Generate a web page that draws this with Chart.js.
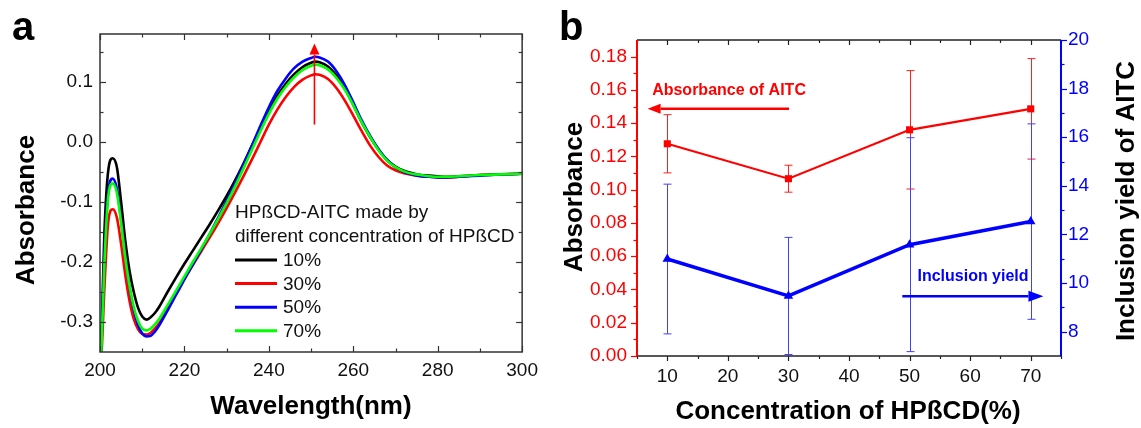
<!DOCTYPE html>
<html>
<head>
<meta charset="utf-8">
<script src="https://cdn.jsdelivr.net/npm/chart.js@4.4.1/dist/chart.umd.min.js"></script>
<style>
  html, body { margin: 0; padding: 0; background: #fff; }
  body { width: 1141px; height: 428px; position: relative; overflow: hidden; }
  canvas { position: absolute; top: 0; }
  #chartA { left: 0; }
  #chartB { left: 545px; }
</style>
</head>
<body>
<canvas id="chartA" width="545" height="428"></canvas>
<canvas id="chartB" width="596" height="428"></canvas>
<script>
// ---- panel a: UV spectra ----
const wavelengths = [200,201,202,203,204,205,206,207,208,209,210,211,212,213,214,216,218,220,222,224,226,228,230,232,234,236,238,240,242,244,246,248,250,251,252,254,256,258,260,262,264,266,268,270,272,274,276,278,280,282,285,290,295,300];
const abs10 = [-0.42,-0.16,-0.045,-0.027,-0.042,-0.10,-0.165,-0.215,-0.25,-0.276,-0.291,-0.296,-0.292,-0.285,-0.275,-0.250,-0.226,-0.203,-0.181,-0.159,-0.137,-0.114,-0.090,-0.064,-0.036,-0.006,0.024,0.053,0.077,0.097,0.113,0.125,0.132,0.134,0.133,0.126,0.111,0.090,0.062,0.033,0.008,-0.013,-0.030,-0.041,-0.048,-0.052,-0.055,-0.056,-0.057,-0.058,-0.057,-0.055,-0.054,-0.053];
const abs30 = [-0.42,-0.25,-0.13,-0.112,-0.126,-0.17,-0.222,-0.265,-0.295,-0.312,-0.32,-0.321,-0.318,-0.311,-0.302,-0.278,-0.253,-0.228,-0.205,-0.182,-0.159,-0.135,-0.110,-0.084,-0.057,-0.029,0.000,0.029,0.054,0.075,0.092,0.104,0.111,0.113,0.112,0.105,0.090,0.069,0.044,0.018,-0.006,-0.025,-0.039,-0.047,-0.052,-0.055,-0.057,-0.058,-0.059,-0.059,-0.058,-0.055,-0.054,-0.053];
const abs50 = [-0.42,-0.20,-0.08,-0.061,-0.078,-0.13,-0.19,-0.242,-0.28,-0.305,-0.319,-0.324,-0.323,-0.316,-0.306,-0.281,-0.255,-0.229,-0.204,-0.179,-0.153,-0.126,-0.098,-0.069,-0.038,-0.006,0.027,0.058,0.085,0.106,0.123,0.134,0.140,0.142,0.141,0.134,0.118,0.095,0.066,0.036,0.010,-0.012,-0.030,-0.042,-0.050,-0.054,-0.057,-0.058,-0.059,-0.059,-0.058,-0.056,-0.054,-0.053];
const abs70 = [-0.42,-0.21,-0.088,-0.069,-0.085,-0.135,-0.193,-0.24,-0.275,-0.298,-0.311,-0.314,-0.311,-0.304,-0.295,-0.272,-0.248,-0.224,-0.200,-0.177,-0.153,-0.128,-0.102,-0.074,-0.044,-0.013,0.018,0.047,0.072,0.092,0.108,0.120,0.127,0.129,0.128,0.121,0.107,0.087,0.061,0.033,0.008,-0.014,-0.031,-0.042,-0.049,-0.053,-0.055,-0.057,-0.058,-0.058,-0.057,-0.055,-0.054,-0.053];
const seriesLabelsA = ['10%', '30%', '50%', '70%'];
const legendTitleA = ['HP\u00dfCD-AITC made by', 'different concentration of HP\u00dfCD'];
const xTicksA = [200, 220, 240, 260, 280, 300];
const xMinorA = [210, 230, 250, 270, 290];
const yTicksA = [-0.3, -0.2, -0.1, 0, 0.1];
const yMinorA = [-0.25, -0.15, -0.05, 0.05, 0.15];

// ---- panel b: absorbance and inclusion yield ----
const concentrations = [10, 30, 50, 70];
const absorbanceAITC = [0.1276, 0.1066, 0.136, 0.1486];
const absorbanceErr = [0.0175, 0.0081, 0.0356, 0.0302];
const inclusionYield = [10.99, 9.47, 11.58, 12.53];
const inclusionErr = [3.08, 2.41, 4.40, 4.02];
const xTicksB = [10, 20, 30, 40, 50, 60, 70];
const xMinorB = [5, 15, 25, 35, 45, 55, 65, 75];
const yTicksB = [0, 0.02, 0.04, 0.06, 0.08, 0.10, 0.12, 0.14, 0.16, 0.18];
const yMinorB = [0.01, 0.03, 0.05, 0.07, 0.09, 0.11, 0.13, 0.15, 0.17];
const yTicksR = [8, 10, 12, 14, 16, 18, 20];
const yMinorR = [9, 11, 13, 15, 17, 19];

Chart.defaults.font.family = "'Liberation Sans', Arial, sans-serif";
Chart.defaults.color = '#111';

const FONT = "'Liberation Sans', Arial, sans-serif";

function ticksX(ctx, scale, vals, y0, len) {
  vals.forEach(v => {
    const px = Math.round(scale.getPixelForValue(v)) + 0.5;
    ctx.beginPath(); ctx.moveTo(px, y0); ctx.lineTo(px, y0 + len); ctx.stroke();
  });
}
function ticksY(ctx, scale, vals, x0, len) {
  vals.forEach(v => {
    const py = Math.round(scale.getPixelForValue(v)) + 0.5;
    ctx.beginPath(); ctx.moveTo(x0, py); ctx.lineTo(x0 + len, py); ctx.stroke();
  });
}
function arrow(ctx, x1, y1, x2, y2, color, width, headLen, headHalf) {
  const ang = Math.atan2(y2 - y1, x2 - x1);
  const bx = x2 - Math.cos(ang) * headLen, by = y2 - Math.sin(ang) * headLen;
  ctx.strokeStyle = color; ctx.fillStyle = color; ctx.lineWidth = width;
  ctx.beginPath(); ctx.moveTo(x1, y1); ctx.lineTo(bx, by); ctx.stroke();
  ctx.beginPath();
  ctx.moveTo(x2, y2);
  ctx.lineTo(bx + Math.sin(ang) * headHalf, by - Math.cos(ang) * headHalf);
  ctx.lineTo(bx - Math.sin(ang) * headHalf, by + Math.cos(ang) * headHalf);
  ctx.closePath(); ctx.fill();
}
function vText(ctx, text, x, cy, font) {
  ctx.save();
  ctx.translate(x, cy); ctx.rotate(-Math.PI / 2);
  ctx.font = font; ctx.textAlign = 'center'; ctx.textBaseline = 'alphabetic';
  ctx.fillText(text, 0, 0);
  ctx.restore();
}

const colorsA = ['#000000', '#ff0000', '#0000ff', '#00ff00'];
const valuesA = [abs10, abs30, abs50, abs70];

const panelA = {
  id: 'panelA',
  afterDraw(chart) {
    const { ctx, chartArea: a, scales: { x, y } } = chart;
    ctx.save();
    // frame + inward ticks
    ctx.strokeStyle = '#333'; ctx.lineWidth = 1.5;
    ctx.strokeRect(a.left, a.top, a.right - a.left, a.bottom - a.top);
    ctx.lineWidth = 1.2;
    ticksX(ctx, x, xTicksA, a.bottom, -6); ticksX(ctx, x, xMinorA, a.bottom, -3.5);
    ticksX(ctx, x, xTicksA, a.top, 6); ticksX(ctx, x, xMinorA, a.top, 3.5);
    ticksY(ctx, y, yTicksA, a.left, 6); ticksY(ctx, y, yMinorA, a.left, 3.5);
    ticksY(ctx, y, yTicksA, a.right, -6); ticksY(ctx, y, yMinorA, a.right, -3.5);

    // red arrow at the peak
    const ax = x.getPixelForValue(250.8);
    arrow(ctx, ax, y.getPixelForValue(0.029), ax, y.getPixelForValue(0.164), '#ff0000', 1.6, 11, 5);

    // legend
    ctx.fillStyle = '#111';
    ctx.font = '19px ' + FONT; ctx.textBaseline = 'middle'; ctx.textAlign = 'left';
    ctx.fillText(legendTitleA[0], 235, 213);
    ctx.fillText(legendTitleA[1], 235, 237);
    seriesLabelsA.forEach((lab, i) => {
      const yy = 260 + i * 23.6;
      ctx.strokeStyle = colorsA[i]; ctx.lineWidth = 3;
      ctx.beginPath(); ctx.moveTo(235, yy); ctx.lineTo(277, yy); ctx.stroke();
      ctx.fillStyle = '#111';
      ctx.fillText(lab, 283, yy + 1);
    });

    // titles
    ctx.fillStyle = '#000';
    ctx.font = 'bold 40px ' + FONT; ctx.textBaseline = 'alphabetic'; ctx.textAlign = 'left';
    ctx.fillText('a', 12, 40);
    ctx.font = 'bold 26px ' + FONT; ctx.textAlign = 'center'; ctx.textBaseline = 'middle';
    ctx.fillText('Wavelength(nm)', 311, 407);
    vText(ctx, 'Absorbance', 34, 210, 'bold 26px ' + FONT);
    ctx.restore();
  }
};

new Chart(document.getElementById('chartA'), {
  type: 'line',
  data: {
    datasets: valuesA.map((vals, i) => ({
      label: seriesLabelsA[i],
      data: wavelengths.map((w, j) => ({ x: w, y: vals[j] })),
      borderColor: colorsA[i],
      borderWidth: 2.6,
      pointRadius: 0,
      cubicInterpolationMode: 'monotone',
      order: 4 - i
    }))
  },
  options: {
    responsive: false,
    animation: false,
    layout: { padding: { left: 0, right: 21, top: 34, bottom: 0 } },
    plugins: { legend: { display: false }, tooltip: { enabled: false } },
    scales: {
      x: {
        type: 'linear', min: 200, max: 300,
        grid: { display: false, drawTicks: false }, border: { display: false },
        ticks: { padding: 7, color: '#111', font: { size: 19 }, maxRotation: 0, autoSkip: false },
        afterBuildTicks: s => { s.ticks = xTicksA.map(v => ({ value: v })); },
        afterFit: s => { s.height = 76; }
      },
      y: {
        type: 'linear', min: -0.35, max: 0.18,
        grid: { display: false, drawTicks: false }, border: { display: false },
        ticks: { padding: 7, color: '#111', font: { size: 19 }, callback: v => v.toFixed(1) },
        afterBuildTicks: s => { s.ticks = yTicksA.map(v => ({ value: v })); },
        afterFit: s => { s.width = 100; }
      }
    }
  },
  plugins: [panelA]
});

// ---- panel b ----
const panelB = {
  id: 'panelB',
  beforeDatasetsDraw(chart) {
    const { ctx, scales: { x } } = chart;
    ctx.save();
    chart.data.datasets.forEach(ds => {
      const ys = chart.scales[ds.yAxisID];
      ctx.strokeStyle = ds.errColor; ctx.lineWidth = 1;
      concentrations.forEach((c, i) => {
        const px = Math.round(x.getPixelForValue(c)) + 0.5;
        const top = ys.getPixelForValue(ds.values[i] + ds.errors[i]);
        const bot = ys.getPixelForValue(ds.values[i] - ds.errors[i]);
        ctx.beginPath();
        ctx.moveTo(px, top); ctx.lineTo(px, bot);
        ctx.moveTo(px - 4, top); ctx.lineTo(px + 4, top);
        ctx.moveTo(px - 4, bot); ctx.lineTo(px + 4, bot);
        ctx.stroke();
      });
    });
    ctx.restore();
  },
  afterDraw(chart) {
    const { ctx, chartArea: a, scales: { x, yL, yR } } = chart;
    ctx.save();
    // axes
    ctx.lineWidth = 1.5; ctx.strokeStyle = '#222';
    ctx.beginPath(); ctx.moveTo(a.left, a.top); ctx.lineTo(a.right, a.top);
    ctx.moveTo(a.left, a.bottom); ctx.lineTo(a.right, a.bottom); ctx.stroke();
    ctx.lineWidth = 1.2;
    ticksX(ctx, x, xTicksB, a.bottom, 5); ticksX(ctx, x, xMinorB, a.bottom, 3);
    ticksX(ctx, x, xTicksB, a.top, 5); ticksX(ctx, x, xMinorB, a.top, 3);
    ctx.strokeStyle = '#ff0000'; ctx.lineWidth = 2;
    ctx.beginPath(); ctx.moveTo(a.left, a.top); ctx.lineTo(a.left, a.bottom); ctx.stroke();
    ctx.lineWidth = 1.2;
    ticksY(ctx, yL, yTicksB, a.left, -6); ticksY(ctx, yL, yMinorB, a.left, -3.5);
    ctx.strokeStyle = '#0000ff'; ctx.lineWidth = 2;
    ctx.beginPath(); ctx.moveTo(a.right, a.top); ctx.lineTo(a.right, a.bottom); ctx.stroke();
    ctx.lineWidth = 1.2;
    ticksY(ctx, yR, yTicksR, a.right, 6); ticksY(ctx, yR, yMinorR, a.right, 3.5);

    // annotations
    ctx.font = 'bold 16px ' + FONT; ctx.textAlign = 'left'; ctx.textBaseline = 'middle';
    ctx.fillStyle = '#ff0000';
    ctx.fillText('Absorbance of AITC', x.getPixelForValue(7.5), yL.getPixelForValue(0.1596));
    arrow(ctx, x.getPixelForValue(30.1), yL.getPixelForValue(0.1486),
          x.getPixelForValue(6.75), yL.getPixelForValue(0.1486), '#ff0000', 2.5, 13, 5);
    ctx.fillStyle = '#0000ff';
    ctx.fillText('Inclusion yield', x.getPixelForValue(51.3), yR.getPixelForValue(10.27));
    arrow(ctx, x.getPixelForValue(48.8), yR.getPixelForValue(9.46),
          x.getPixelForValue(72.1), yR.getPixelForValue(9.46), '#0000ff', 2.5, 15, 5.5);

    // titles
    ctx.fillStyle = '#000';
    ctx.font = 'bold 40px ' + FONT; ctx.textBaseline = 'alphabetic'; ctx.textAlign = 'left';
    ctx.fillText('b', 14, 40);
    ctx.font = 'bold 26px ' + FONT; ctx.textAlign = 'center'; ctx.textBaseline = 'middle';
    ctx.fillText('Concentration of HP\u00dfCD(%)', 303, 412);
    vText(ctx, 'Absorbance', 37, 197, 'bold 26px ' + FONT);
    vText(ctx, 'Inclusion yield of AITC', 589, 201, 'bold 26px ' + FONT);
    ctx.restore();
  }
};

new Chart(document.getElementById('chartB'), {
  type: 'line',
  data: {
    datasets: [
      {
        label: 'Absorbance of AITC',
        data: concentrations.map((c, i) => ({ x: c, y: absorbanceAITC[i] })),
        values: absorbanceAITC, errors: absorbanceErr, errColor: '#ff2020',
        yAxisID: 'yL',
        borderColor: '#ff0000', backgroundColor: '#ff0000', borderWidth: 2.2,
        pointStyle: 'rect', pointRadius: 5, pointBorderWidth: 0
      },
      {
        label: 'Inclusion yield',
        data: concentrations.map((c, i) => ({ x: c, y: inclusionYield[i] })),
        values: inclusionYield, errors: inclusionErr, errColor: '#4040ff',
        yAxisID: 'yR',
        borderColor: '#0000ff', backgroundColor: '#0000ff', borderWidth: 3.6,
        pointStyle: 'triangle', pointRadius: 5.5, pointBorderWidth: 0
      }
    ]
  },
  options: {
    responsive: false,
    animation: false,
    clip: false,
    layout: { padding: { left: 0, right: 0, top: 40, bottom: 0 } },
    plugins: { legend: { display: false }, tooltip: { enabled: false } },
    scales: {
      x: {
        type: 'linear', min: 5, max: 75,
        grid: { display: false, drawTicks: false }, border: { display: false },
        ticks: { padding: 9, color: '#111', font: { size: 19 }, maxRotation: 0, autoSkip: false },
        afterBuildTicks: s => { s.ticks = xTicksB.map(v => ({ value: v })); },
        afterFit: s => { s.height = 72; }
      },
      yL: {
        type: 'linear', position: 'left', min: 0, max: 0.19,
        grid: { display: false, drawTicks: false }, border: { display: false },
        ticks: { padding: 10, color: '#ff0000', font: { size: 19 }, callback: v => v.toFixed(2) },
        afterBuildTicks: s => { s.ticks = yTicksB.map(v => ({ value: v })); },
        afterFit: s => { s.width = 92; }
      },
      yR: {
        type: 'linear', position: 'right', min: 7, max: 20,
        grid: { display: false, drawTicks: false }, border: { display: false },
        ticks: { padding: 7, color: '#0000ff', font: { size: 19 } },
        afterBuildTicks: s => { s.ticks = yTicksR.map(v => ({ value: v })); },
        afterFit: s => { s.width = 80; }
      }
    }
  },
  plugins: [panelB]
});
</script>
</body>
</html>
